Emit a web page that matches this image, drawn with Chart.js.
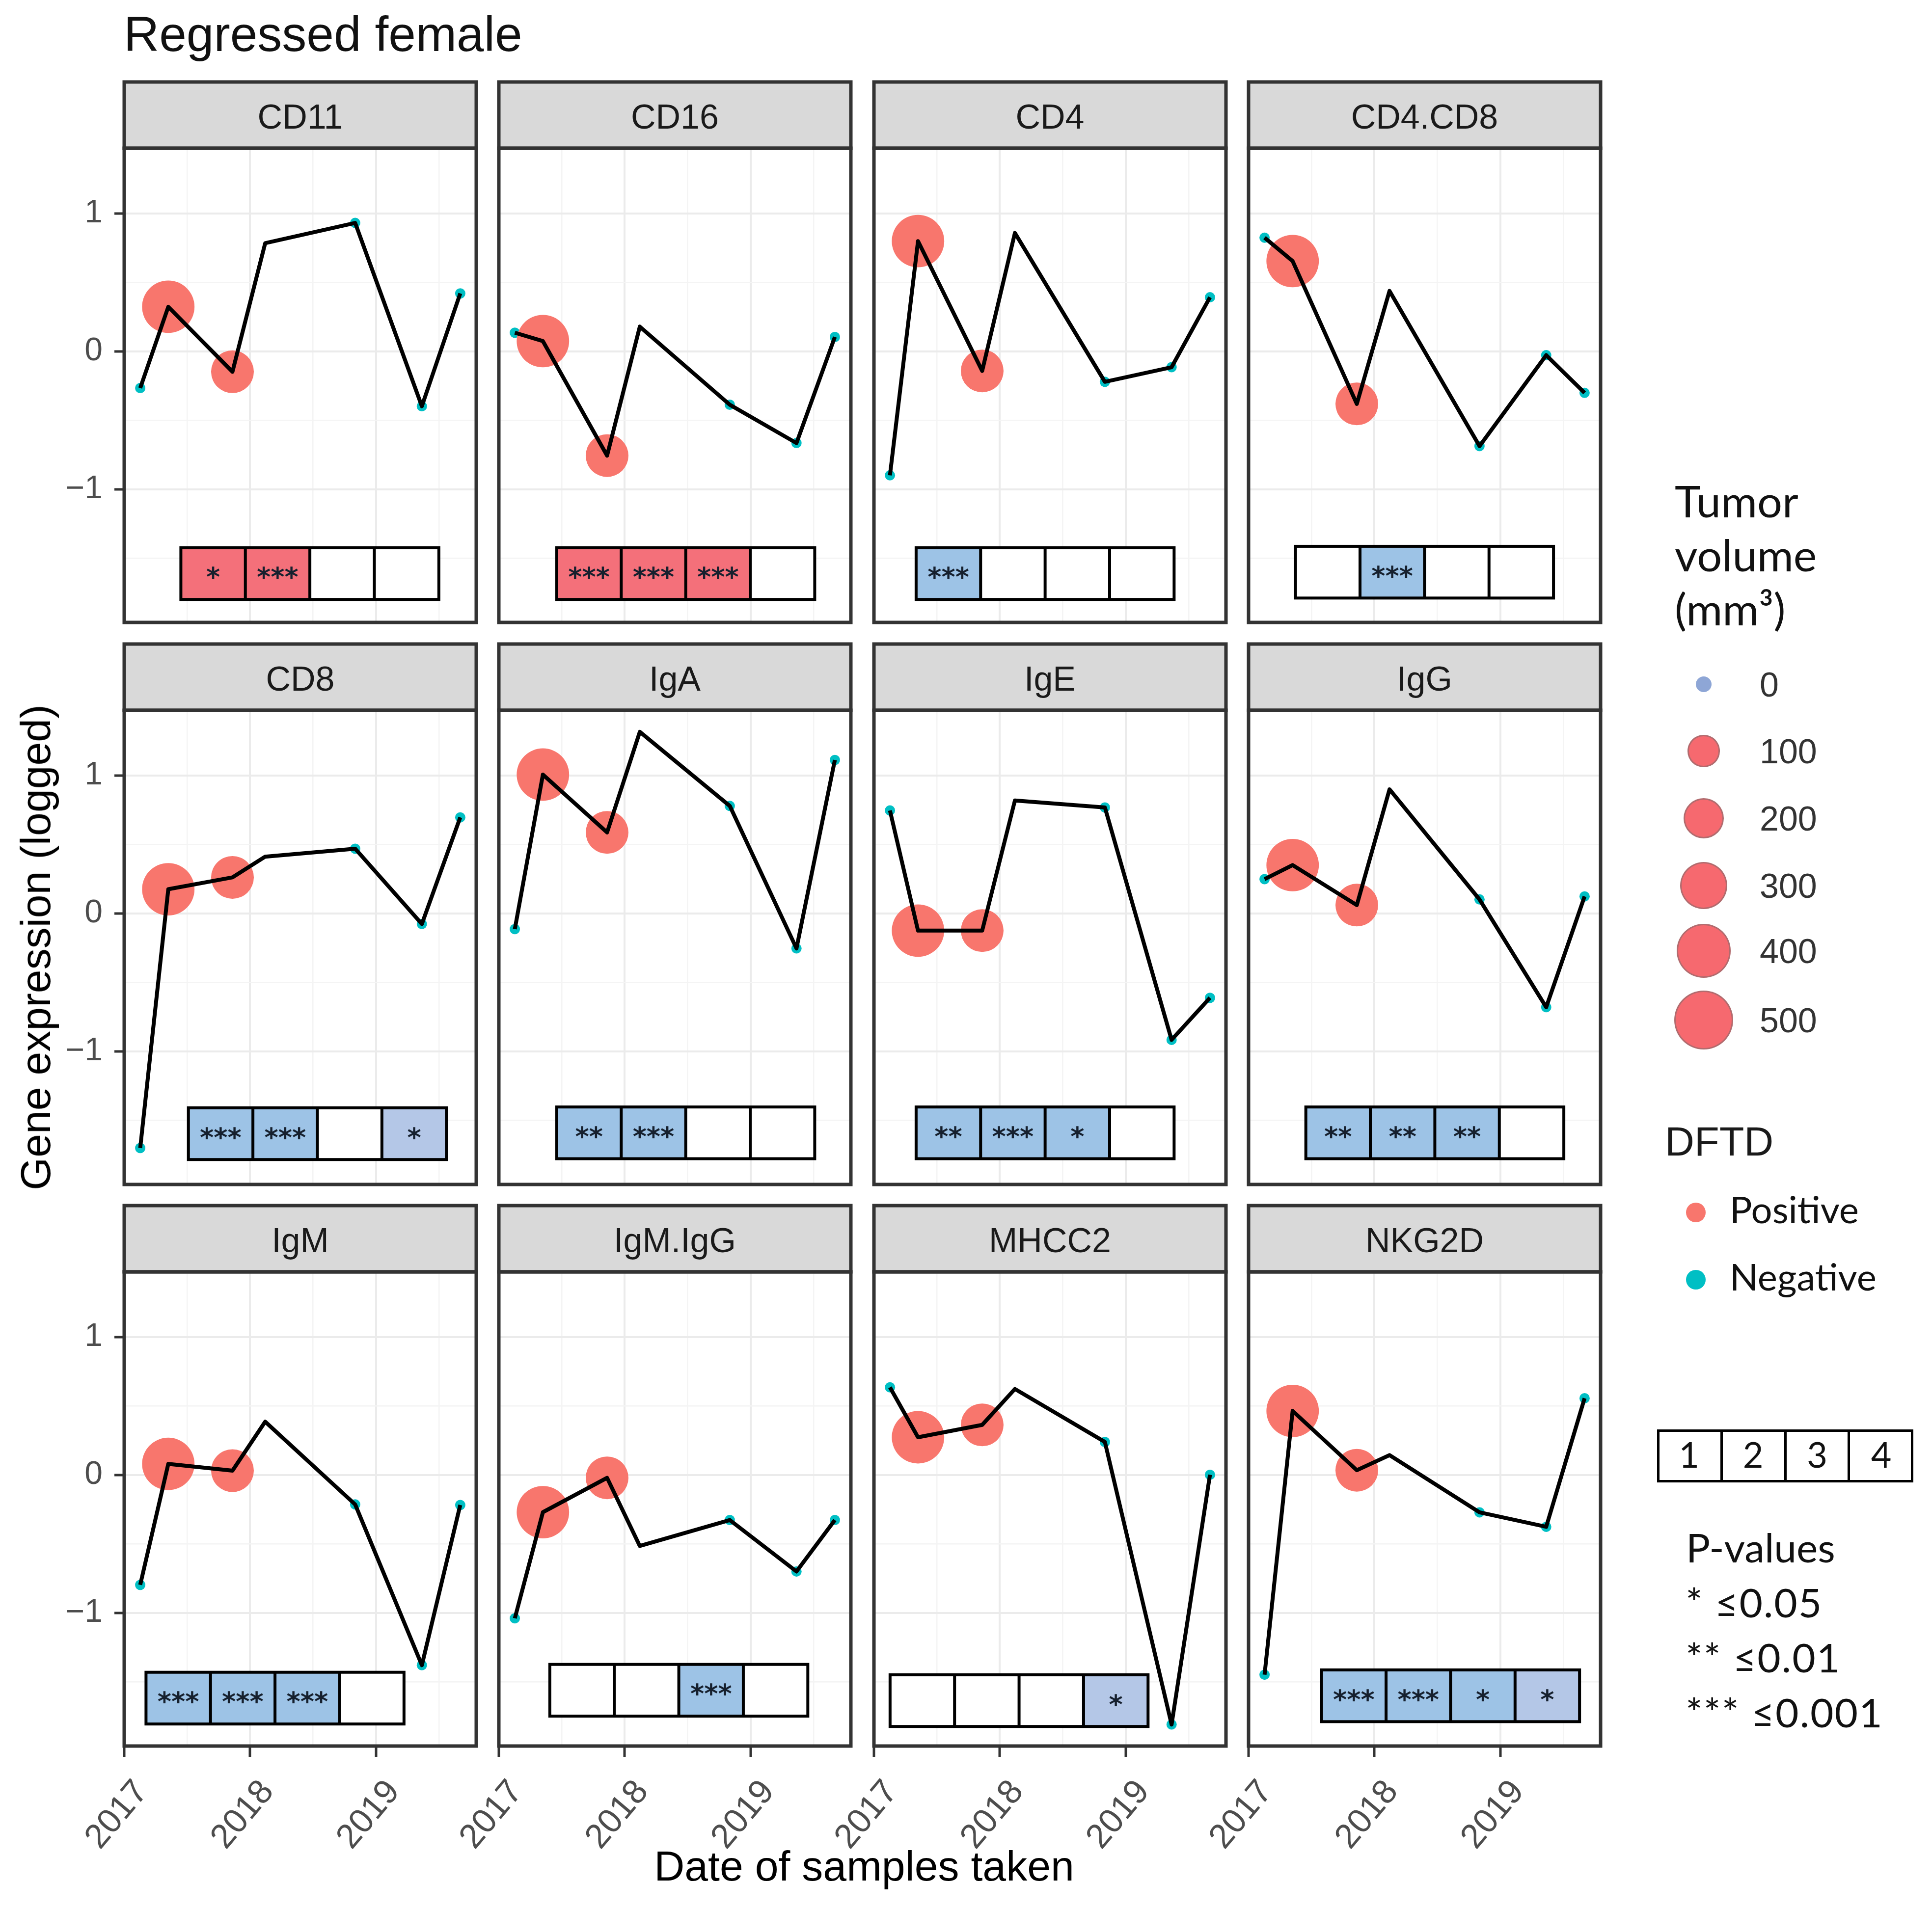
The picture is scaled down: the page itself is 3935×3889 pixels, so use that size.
<!DOCTYPE html>
<html lang="en">
<head>
<meta charset="utf-8">
<title>Regressed female</title>
<script src="https://cdn.jsdelivr.net/npm/chart.js@4.4.1/dist/chart.umd.min.js"></script>
<style>
  html, body { margin: 0; padding: 0; background: #ffffff; }
  #page { position: relative; width: 3935px; height: 3889px; overflow: hidden; background: #ffffff; }
  .panel { position: absolute; }
  .lbl { position: absolute; white-space: nowrap; line-height: 1; color: #1a1a1a; }
  .dot { position: absolute; border-radius: 50%; box-sizing: border-box; }
</style>
</head>
<body>
<div id="page"></div>
<script>
// ---- values ----
const sampleDates = [2017.127, 2017.35, 2017.86, 2018.12, 2018.835, 2019.365, 2019.67];
const tumorVolume = [0, 380, 230, null, 0, 0, 0];
const dftdStatus  = ['Negative', 'Positive', 'Positive', null, 'Negative', 'Negative', 'Negative'];

const genes = ['CD11', 'CD16', 'CD4', 'CD4.CD8', 'CD8', 'IgA', 'IgE', 'IgG', 'IgM', 'IgM.IgG', 'MHCC2', 'NKG2D'];

const cd11   = [-0.265, 0.324, -0.147, 0.785, 0.932, -0.397, 0.421];
const cd16   = [0.136, 0.075, -0.755, 0.180, -0.386, -0.664, 0.105];
const cd4    = [-0.898, 0.800, -0.141, 0.859, -0.220, -0.114, 0.393];
const cd4cd8 = [0.825, 0.655, -0.380, 0.439, -0.686, -0.027, -0.300];
const cd8    = [-1.700, 0.176, 0.262, 0.412, 0.470, -0.076, 0.697];
const igA    = [-0.113, 1.007, 0.588, 1.317, 0.780, -0.253, 1.113];
const igE    = [0.747, -0.124, -0.124, 0.819, 0.769, -0.916, -0.611];
const igG    = [0.249, 0.351, 0.061, 0.900, 0.102, -0.679, 0.124];
const igM    = [-0.796, 0.081, 0.032, 0.387, -0.213, -1.378, -0.217];
const igMigG = [-1.038, -0.269, -0.020, -0.514, -0.326, -0.699, -0.326];
const mhcc2  = [0.636, 0.274, 0.364, 0.624, 0.240, -1.808, 0.002];
const nkg2d  = [-1.447, 0.465, 0.035, 0.145, -0.270, -0.375, 0.557];
const expression = [cd11, cd16, cd4, cd4cd8, cd8, igA, igE, igG, igM, igMigG, mhcc2, nkg2d];

// significance of comparisons 1-4 and the kind of change
const pStars = [
  ['*', '***', '', ''],   ['***', '***', '***', ''], ['***', '', '', ''],    ['', '***', '', ''],
  ['***', '***', '', '*'], ['**', '***', '', ''],     ['**', '***', '*', ''], ['**', '**', '**', ''],
  ['***', '***', '***', ''], ['', '', '***', ''],     ['', '', '', '*'],      ['***', '***', '*', '*']
];
const pChange = [
  ['up', 'up', '', ''],       ['up', 'up', 'up', ''],     ['down', '', '', ''],       ['', 'down', '', ''],
  ['down', 'down', '', 'weak'], ['down', 'down', '', ''], ['down', 'down', 'down', ''], ['down', 'down', 'down', ''],
  ['down', 'down', 'down', ''], ['', '', 'down', ''],     ['', '', '', 'weak'],       ['down', 'down', 'down', 'weak']
];

const yearTicks = [2017, 2018, 2019];
const exprTicks = [-1, 0, 1];
const volumeLegend = [0, 100, 200, 300, 400, 500];
const dftdLevels = ['Positive', 'Negative'];
const comparisonLabels = ['1', '2', '3', '4'];
const pLegend = ['* \u22640.05', '** \u22640.01', '*** \u22640.001'];

// ---- layout and styles ----
const colLeft = [253, 1016, 1780, 2543];
const rowTop = [302, 1447, 2591];
const PW = 717, PH = 966, STRIP = 135, AXW = 220, AXH = 280, PAD = 12;
// where the significance strip sits inside each panel (x in years, y in axis units)
const boxStart = [2017.45, 2017.46, 2017.335, 2017.373, 2017.51, 2017.46, 2017.335, 2017.455, 2017.173, 2017.405, 2017.128, 2017.58];
const boxMid = [-1.61, -1.61, -1.61, -1.60, -1.596, -1.59, -1.59, -1.59, -1.617, -1.56, -1.635, -1.60];
const boxW = 2.05, boxH = 0.375;
const cellFill = { up: '#f4707a', down: '#9dc3e6', weak: '#b4c7e7', '': '#ffffff' };
const dftdColor = { Positive: '#f8766d', Negative: '#00bfc4' };

function bubbleRadius(v) { return Math.sqrt(420 + 6.4 * v); }

const xLo = Math.min(...sampleDates), xHi = Math.max(...sampleDates);
const xMin = xLo - 0.05 * (xHi - xLo), xMax = xHi + 0.05 * (xHi - xLo);
const allVals = expression.flat();
const yLo = Math.min(...allVals), yHi = Math.max(...allVals);
const yMin = yLo - 0.05 * (yHi - yLo), yMax = yHi + 0.05 * (yHi - yLo);

const xGrid = [], yGrid = [];
yearTicks.forEach(t => { xGrid.push(t, t + 0.5); });
exprTicks.forEach(t => { yGrid.push(t - 0.5, t); });
const xGridIn = xGrid.filter(v => v >= xMin && v <= xMax);
const yGridIn = yGrid.filter(v => v >= yMin && v <= yMax);

const page = document.getElementById('page');

const panelDecor = {
  id: 'panelDecor',
  afterDatasetsDraw(chart, args, opts) {
    const i = opts.index;
    const ctx = chart.ctx, xs = chart.scales.x, ys = chart.scales.y;
    const x0 = xs.getPixelForValue(boxStart[i]);
    const x1 = xs.getPixelForValue(boxStart[i] + boxW);
    const y0 = ys.getPixelForValue(boxMid[i] + boxH / 2);
    const y1 = ys.getPixelForValue(boxMid[i] - boxH / 2);
    const cw = (x1 - x0) / 4;
    ctx.save();
    for (let k = 0; k < 4; k++) {
      ctx.fillStyle = cellFill[pChange[i][k]];
      ctx.fillRect(x0 + k * cw, y0, cw, y1 - y0);
    }
    ctx.strokeStyle = '#000000';
    ctx.lineWidth = 6;
    ctx.strokeRect(x0, y0, x1 - x0, y1 - y0);
    for (let k = 1; k < 4; k++) {
      ctx.beginPath();
      ctx.moveTo(x0 + k * cw, y0);
      ctx.lineTo(x0 + k * cw, y1);
      ctx.stroke();
    }
    ctx.fillStyle = '#16202e';
    ctx.font = 'bold 54px "DejaVu Sans"';
    ctx.textAlign = 'center';
    ctx.textBaseline = 'middle';
    for (let k = 0; k < 4; k++) {
      if (pStars[i][k]) ctx.fillText(pStars[i][k], x0 + (k + 0.5) * cw, (y0 + y1) / 2 + 12);
    }
    ctx.restore();
  },
  afterDraw(chart, args, opts) {
    const a = chart.chartArea, ctx = chart.ctx;
    const w = a.right - a.left;
    ctx.save();
    ctx.fillStyle = '#d9d9d9';
    ctx.fillRect(a.left, a.top - STRIP, w, STRIP);
    ctx.strokeStyle = '#333333';
    ctx.lineWidth = 7;
    ctx.strokeRect(a.left, a.top - STRIP, w, STRIP);
    ctx.strokeRect(a.left, a.top, w, a.bottom - a.top);
    ctx.fillStyle = '#1a1a1a';
    ctx.font = '70px "Liberation Sans"';
    ctx.textAlign = 'center';
    ctx.textBaseline = 'alphabetic';
    ctx.fillText(genes[opts.index], a.left + w / 2, a.top - STRIP / 2 + 27);
    ctx.restore();
  }
};

function fmtExpr(v) { return v < 0 ? '\u2212' + Math.abs(v) : String(v); }

genes.forEach((gene, i) => {
  const row = Math.floor(i / 4), col = i % 4;
  const wrap = document.createElement('div');
  wrap.className = 'panel';
  const cw = AXW + PW + PAD, ch = PAD + STRIP + PH + AXH;
  wrap.style.left = (colLeft[col] - AXW) + 'px';
  wrap.style.top = (rowTop[row] - STRIP - PAD) + 'px';
  wrap.style.width = cw + 'px';
  wrap.style.height = ch + 'px';
  const canvas = document.createElement('canvas');
  canvas.width = cw; canvas.height = ch;
  canvas.style.width = cw + 'px'; canvas.style.height = ch + 'px';
  wrap.appendChild(canvas);
  page.appendChild(wrap);

  const vals = expression[i];
  const linePts = sampleDates.map((d, k) => ({ x: d, y: vals[k] }));
  const dotPts = sampleDates.map((d, k) => ({ x: d, y: vals[k], v: tumorVolume[k], s: dftdStatus[k] }))
    .filter(p => p.s);
  const showX = row === 2, showY = col === 0;

  new Chart(canvas, {
    type: 'line',
    data: {
      datasets: [
        { type: 'line', data: linePts, borderColor: '#000000', borderWidth: 8, pointRadius: 0,
          tension: 0, borderJoinStyle: 'round', fill: false, order: 0 },
        { type: 'scatter', data: dotPts, order: 1,
          pointBackgroundColor: c => dftdColor[c.raw.s],
          pointBorderWidth: 0,
          pointRadius: c => (c.raw.v > 0 ? bubbleRadius(c.raw.v) : 10.5) }
      ]
    },
    options: {
      responsive: false,
      animation: false,
      devicePixelRatio: 1,
      events: [],
      layout: { padding: { top: PAD + STRIP, right: PAD, left: 0, bottom: 0 }, autoPadding: false },
      plugins: { legend: { display: false }, tooltip: { enabled: false }, panelDecor: { index: i } },
      scales: {
        x: {
          type: 'linear', min: xMin, max: xMax,
          afterFit: s => { s.height = AXH; s.paddingLeft = 0; s.paddingRight = 0; },
          afterBuildTicks: s => { s.ticks = xGridIn.map(v => ({ value: v })); },
          border: { display: false },
          grid: {
            color: c => (yearTicks.includes(c.tick.value) ? '#ebebeb' : '#f4f4f4'),
            lineWidth: c => (yearTicks.includes(c.tick.value) ? 4 : 2.5),
            drawTicks: showX, tickLength: 22, tickWidth: 5,
            tickColor: c => (yearTicks.includes(c.tick.value) ? '#333333' : 'rgba(0,0,0,0)')
          },
          ticks: {
            display: showX, autoSkip: false, minRotation: 50, maxRotation: 50, padding: 32, labelOffset: 36,
            color: '#4d4d4d', font: { family: 'Liberation Sans', size: 70 },
            callback: v => (yearTicks.includes(v) ? String(v) : '')
          }
        },
        y: {
          type: 'linear', min: yMin, max: yMax,
          afterFit: s => { s.width = AXW; s.paddingTop = 0; s.paddingBottom = 0; },
          afterBuildTicks: s => { s.ticks = yGridIn.map(v => ({ value: v })); },
          border: { display: false },
          grid: {
            color: c => (exprTicks.includes(c.tick.value) ? '#ebebeb' : '#f4f4f4'),
            lineWidth: c => (exprTicks.includes(c.tick.value) ? 4 : 2.5),
            drawTicks: showY, tickLength: 20, tickWidth: 5,
            tickColor: c => (exprTicks.includes(c.tick.value) ? '#333333' : 'rgba(0,0,0,0)')
          },
          ticks: {
            display: showY, autoSkip: false, padding: 24,
            color: '#4d4d4d', font: { family: 'Liberation Sans', size: 66 },
            callback: v => (exprTicks.includes(v) ? fmtExpr(v) : '')
          }
        }
      }
    },
    plugins: [panelDecor]
  });
});

// ---- titles and legend as page text ----
function addText(str, x, base, size, family, opts) {
  opts = opts || {};
  const el = document.createElement('div');
  el.className = 'lbl';
  el.textContent = str;
  el.style.fontFamily = family;
  el.style.fontSize = size + 'px';
  const asc = family.indexOf('Lato') >= 0 ? 0.887 : 0.8465;
  el.style.top = (base - asc * size) + 'px';
  el.style.left = x + 'px';
  if (opts.center) el.style.transform = 'translateX(-50%)';
  if (opts.color) el.style.color = opts.color;
  if (opts.spacing) el.style.letterSpacing = opts.spacing;
  page.appendChild(el);
  return el;
}
function addDot(cx, cy, r, fill, edge) {
  const d = document.createElement('div');
  d.className = 'dot';
  d.style.left = (cx - r) + 'px';
  d.style.top = (cy - r) + 'px';
  d.style.width = (2 * r) + 'px';
  d.style.height = (2 * r) + 'px';
  d.style.background = fill;
  if (edge) d.style.border = '3px solid ' + edge;
  page.appendChild(d);
}

addText('Regressed female', 252, 104, 100, '"Liberation Sans"', { color: '#111111' });
addText('Date of samples taken', 1760, 3831, 86, '"Liberation Sans"', { center: true, color: '#000000' });
const yt = document.createElement('div');
yt.className = 'lbl';
yt.textContent = 'Gene expression (logged)';
yt.style.fontFamily = '"Liberation Sans"';
yt.style.fontSize = '86px';
yt.style.color = '#000000';
yt.style.left = '72px';
yt.style.top = '1930px';
yt.style.transform = 'translate(-50%, -50%) rotate(-90deg)';
page.appendChild(yt);

// tumour volume legend
['Tumor', 'volume', '(mm\u00b3)'].forEach((s, k) => addText(s, 3411, 1054 + k * 110, 90, 'Lato', { color: '#111111' }));
const volY = [1394, 1530, 1667, 1804, 1937, 2078];
volumeLegend.forEach((v, k) => {
  if (v === 0) addDot(3470, volY[k], 16, '#8ea6d6');
  else addDot(3470, volY[k], bubbleRadius(v), '#f6696f', 'rgba(120,110,110,0.55)');
  addText(String(v), 3584, volY[k] + 25, 70, '"Liberation Sans"', { color: '#333333' });
});

// DFTD legend
addText('DFTD', 3391, 2354, 83, '"Liberation Sans"');
const dftdY = [2470, 2607];
dftdLevels.forEach((s, k) => {
  addDot(3454, dftdY[k], 20, dftdColor[s]);
  addText(s, 3523, dftdY[k] + 22, 76, 'Lato', { color: '#111111' });
});

// comparison key 1-4
const key = document.createElement('div');
key.style.position = 'absolute';
key.style.left = '3375px';
key.style.top = '2912px';
key.style.width = '522px';
key.style.height = '108px';
key.style.border = '5px solid #000';
key.style.boxSizing = 'border-box';
key.style.display = 'flex';
page.appendChild(key);
comparisonLabels.forEach((s, k) => {
  const c = document.createElement('div');
  c.style.flex = '1';
  if (k > 0) c.style.borderLeft = '5px solid #000';
  key.appendChild(c);
  addText(s, 3375 + (k + 0.5) * 130.5, 2990, 72, 'Lato', { center: true, color: '#111111' });
});

// p-value legend
addText('P-values', 3434, 3183, 82, 'Lato', { color: '#111111' });
pLegend.forEach((s, k) => addText(s, 3433, 3295 + k * 112, 82, 'Lato', { color: '#111111', spacing: '2px' }));
</script>
</body>
</html>
